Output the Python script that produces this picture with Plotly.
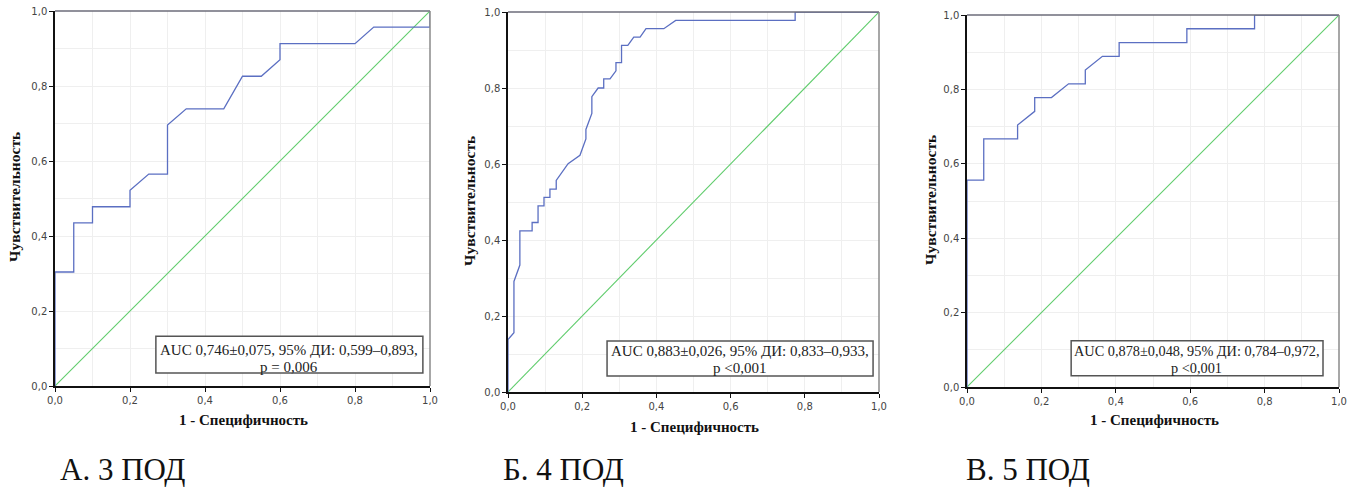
import plotly.graph_objects as go

# ---------------- data ----------------
a_fpr = [0, 0, 0.05, 0.05, 0.10, 0.10, 0.20, 0.20, 0.25, 0.30, 0.30, 0.35, 0.45, 0.50, 0.55, 0.60, 0.60, 0.80, 0.85, 1.00, 1.00]
a_tpr = [0, 0.304, 0.304, 0.435, 0.435, 0.478, 0.478, 0.522, 0.565, 0.565, 0.696, 0.739, 0.739, 0.826, 0.826, 0.870, 0.913, 0.913, 0.957, 0.957, 1.00]

b_fpr = [0, 0, 0.016, 0.016, 0.032, 0.032, 0.065, 0.065, 0.081, 0.081, 0.097, 0.097, 0.113, 0.113,
         0.130, 0.130, 0.162, 0.194, 0.210, 0.210, 0.226, 0.226, 0.243, 0.258, 0.258, 0.275, 0.291,
         0.291, 0.306, 0.306, 0.323, 0.339, 0.356, 0.372, 0.420, 0.452, 0.774, 0.774, 1.00]
b_tpr = [0, 0.138, 0.156, 0.291, 0.334, 0.424, 0.424, 0.446, 0.446, 0.490, 0.490, 0.512, 0.512, 0.534,
         0.534, 0.557, 0.601, 0.623, 0.666, 0.691, 0.733, 0.777, 0.800, 0.800, 0.824, 0.824, 0.845,
         0.867, 0.867, 0.912, 0.912, 0.934, 0.934, 0.956, 0.956, 0.978, 0.978, 1.00, 1.00]

c_fpr = [0, 0, 0.045, 0.045, 0.136, 0.136, 0.182, 0.182, 0.227, 0.273, 0.318, 0.318, 0.364, 0.409,
         0.409, 0.591, 0.591, 0.773, 0.773, 1.00]
c_tpr = [0, 0.556, 0.556, 0.667, 0.667, 0.704, 0.741, 0.778, 0.778, 0.815, 0.815, 0.852, 0.889, 0.889,
         0.926, 0.926, 0.963, 0.963, 1.00, 1.00]

ref_line = [0, 1]

auc_text = [
    ("AUC 0,746±0,075, 95% ДИ: 0,599–0,893,", "p = 0,006"),
    ("AUC 0,883±0,026, 95% ДИ: 0,833–0,933,", "p <0,001"),
    ("AUC 0,878±0,048, 95% ДИ: 0,784–0,972,", "p <0,001"),
]
captions = ["А. 3 ПОД", "Б. 4 ПОД", "В. 5 ПОД"]
x_title = "1 - Специфичность"
y_title = "Чувствительность"

# ---------------- layout geometry ----------------
W, H = 1354, 487
# plot areas in pixels: (left, right, top, bottom)
boxes = [(55, 430, 11, 386), (508, 879, 12, 392), (967, 1339, 15, 387)]
# AUC box in domain fractions (x0, x1, y0, y1), text center x, line1 y, line2 y
auc_boxes = [
    (0.269, 0.981, 0.035, 0.133, 0.623, 0.096, 0.051),
    (0.267, 0.984, 0.042, 0.134, 0.625, 0.108, 0.063),
    (0.280, 0.957, 0.030, 0.124, 0.618, 0.097, 0.051),
]
auc_font = [15, 15, 14.3]
xtitle_pos = [(243, 420), (694, 427), (1154, 420)]
ytitle_pos = [(15, 197), (469, 201), (930, 200)]
caption_pos = [(58, 469), (501, 469), (964, 469)]

BLUE = "#5b6fc2"
GREEN = "#5fcc6c"
GRID = "#efefef"
SERIF = "'Liberation Serif', Tinos, 'Times New Roman', 'DejaVu Serif', serif"
SANS = "'DejaVu Sans', Verdana, sans-serif"

fig = go.Figure()
curves = [(a_fpr, a_tpr), (b_fpr, b_tpr), (c_fpr, c_tpr)]

shapes = []
annotations = []
for i, ((fx, ty), (l, r, t, b)) in enumerate(zip(curves, boxes)):
    sfx = "" if i == 0 else str(i + 1)
    xa, ya = "x" + sfx, "y" + sfx
    fig.add_trace(go.Scatter(x=ref_line, y=ref_line, mode="lines",
                             line=dict(color=GREEN, width=1.1),
                             xaxis=xa, yaxis=ya, showlegend=False, hoverinfo="skip"))
    fig.add_trace(go.Scatter(x=fx, y=ty, mode="lines",
                             line=dict(color=BLUE, width=1.3),
                             xaxis=xa, yaxis=ya, showlegend=False))
    axis_common = dict(range=[0, 1], dtick=0.2, tick0=0, tickformat=".1f",
                       showgrid=True, gridcolor=GRID, gridwidth=1,
                       minor=dict(dtick=0.1, showgrid=True, gridcolor=GRID, gridwidth=1),
                       showline=True, linecolor="#111111", linewidth=1.5,
                       ticks="outside", ticklen=4, tickcolor="#111111", tickwidth=1,
                       tickfont=dict(family=SANS, size=10, color="#444444"),
                       zeroline=False, fixedrange=True, automargin=False)
    fig.update_layout({
        "xaxis" + sfx: dict(axis_common, domain=[l / W, r / W], anchor=ya),
        "yaxis" + sfx: dict(axis_common, domain=[1 - b / H, 1 - t / H], anchor=xa),
    })
    # top / right frame lines in grey
    shapes.append(dict(type="line", xref=xa + " domain", yref=ya + " domain",
                       x0=0, x1=1, y0=1, y1=1, line=dict(color="#6d6d7a", width=1.5)))
    shapes.append(dict(type="line", xref=xa + " domain", yref=ya + " domain",
                       x0=1, x1=1, y0=0, y1=1, line=dict(color="#8a8a8a", width=1.5)))
    # AUC box
    bx0, bx1, by0, by1, tx, ty1, ty2 = auc_boxes[i]
    shapes.append(dict(type="rect", xref=xa + " domain", yref=ya + " domain",
                       x0=bx0, x1=bx1, y0=by0, y1=by1,
                       fillcolor="white", line=dict(color="#555555", width=1.5), layer="above"))
    for txt, yy in zip(auc_text[i], (ty1, ty2)):
        annotations.append(dict(text=txt, xref=xa + " domain", yref=ya + " domain",
                                x=tx, y=yy, showarrow=False, xanchor="center", yanchor="middle",
                                font=dict(family=SERIF, size=auc_font[i], color="#222222")))
    # axis titles
    xt = xtitle_pos[i]
    annotations.append(dict(text="<b>" + x_title + "</b>", xref="paper", yref="paper",
                            x=xt[0] / W, y=1 - xt[1] / H, showarrow=False,
                            xanchor="center", yanchor="middle",
                            font=dict(family=SERIF, size=15, color="#111111")))
    yt = ytitle_pos[i]
    annotations.append(dict(text="<b>" + y_title + "</b>", xref="paper", yref="paper",
                            x=yt[0] / W, y=1 - yt[1] / H, showarrow=False, textangle=-90,
                            xanchor="center", yanchor="middle",
                            font=dict(family=SERIF, size=15.5, color="#111111")))
    # caption
    cp = caption_pos[i]
    annotations.append(dict(text=captions[i], xref="paper", yref="paper",
                            x=cp[0] / W, y=1 - cp[1] / H, showarrow=False,
                            xanchor="left", yanchor="middle",
                            font=dict(family=SERIF, size=31, color="#111111")))

fig.update_layout(width=W, height=H, margin=dict(l=0, r=0, t=0, b=0),
                  paper_bgcolor="white", plot_bgcolor="white",
                  separators=",.", shapes=shapes, annotations=annotations,
                  showlegend=False)

fig.write_html("out.html")
